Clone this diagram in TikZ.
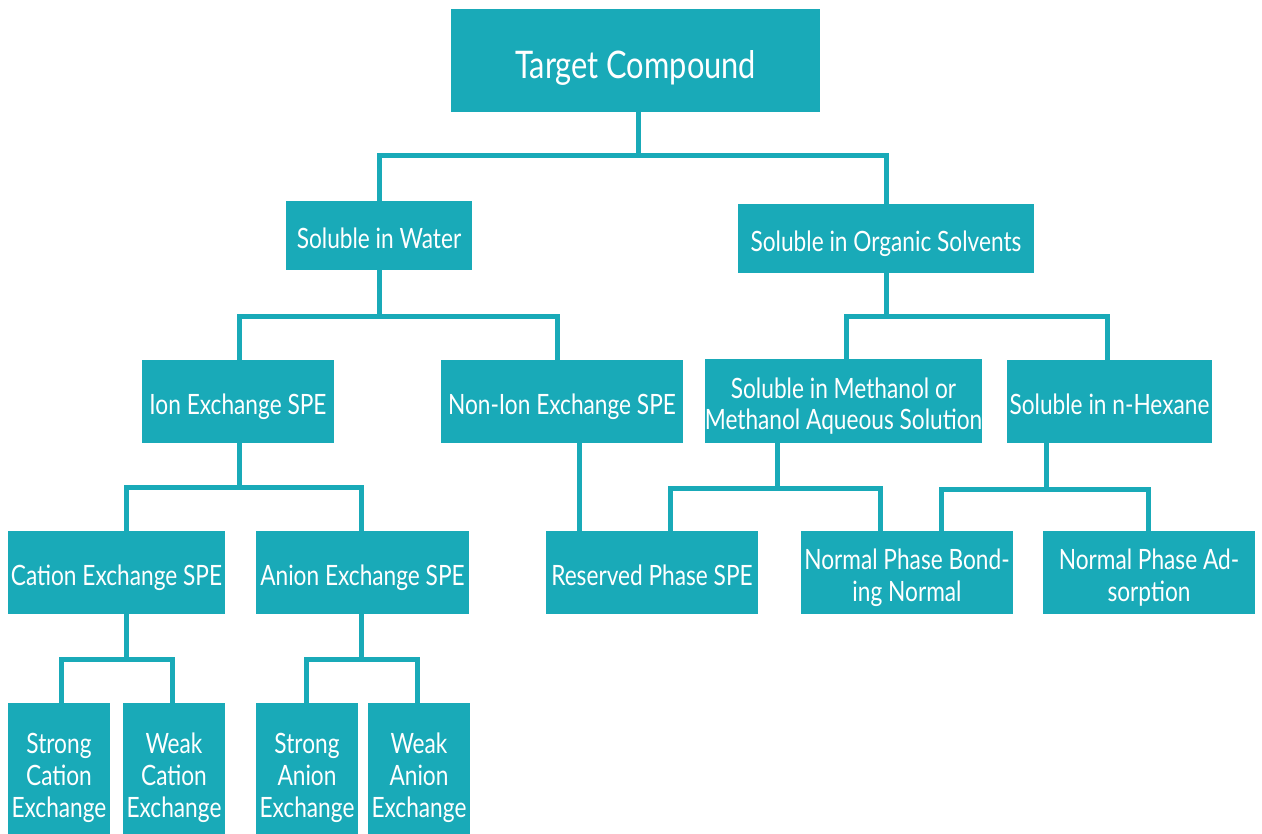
\documentclass[tikz,border=0pt]{standalone}
\usepackage{fontspec}
\setmainfont{Lato}[FakeStretch=0.81]
\definecolor{teal1}{HTML}{19AAB8}
\tikzset{
  box/.style={fill=teal1, inner sep=0pt},
  lbl/.style={text=white, inner sep=0pt, align=center, anchor=base, font=\fontsize{28}{32}\selectfont},
  conn/.style={draw=teal1, line width=5pt, line join=miter}
}
\begin{document}
\begin{tikzpicture}[x=1pt,y=-1pt]
\useasboundingbox (0,0) rectangle (1262,834);
\node[box, minimum width=369, minimum height=103] (tc) at (635.5,60.5) {};
\node[box, minimum width=186, minimum height=69] (sw) at (379,235.5) {};
\node[box, minimum width=296, minimum height=69] (so) at (886,238.5) {};
\node[box, minimum width=192, minimum height=83] (ion) at (238,401.5) {};
\node[box, minimum width=242, minimum height=83] (nonion) at (562,401.5) {};
\node[box, minimum width=277, minimum height=84] (meth) at (843.5,401) {};
\node[box, minimum width=205, minimum height=83] (hex) at (1109.5,401.5) {};
\node[box, minimum width=217, minimum height=83] (cat) at (116.5,572.5) {};
\node[box, minimum width=213, minimum height=83] (an) at (362.5,572.5) {};
\node[box, minimum width=212, minimum height=83] (rev) at (652,572.5) {};
\node[box, minimum width=212, minimum height=83] (npb) at (907,572.5) {};
\node[box, minimum width=212, minimum height=83] (npa) at (1149,572.5) {};
\node[box, minimum width=102, minimum height=131] (sc) at (59,768.5) {};
\node[box, minimum width=102, minimum height=131] (wc) at (174,768.5) {};
\node[box, minimum width=102, minimum height=131] (sa) at (307,768.5) {};
\node[box, minimum width=102, minimum height=131] (wa) at (419,768.5) {};
% connectors
\draw[conn] ([xshift=2.5]tc.south) -- ++(0,43) -| (sw.north);
\draw[conn] ([xshift=2.5]tc.south) -- ++(0,43) -| (so.north);
\draw[conn] (sw.south) -- ++(0,46) -| ([xshift=1]ion.north);
\draw[conn] (sw.south) -- ++(0,46) -| ([xshift=-5]nonion.north);
\draw[conn] (so.south) -- ++(0,43) -| ([xshift=2.5]meth.north);
\draw[conn] (so.south) -- ++(0,43) -| ([xshift=-2.5]hex.north);
\draw[conn] ([xshift=1]ion.south) -- ++(0,44) -| ([xshift=9.5]cat.north);
\draw[conn] ([xshift=1]ion.south) -- ++(0,44) -| ([xshift=-1.5]an.north);
\draw[conn] ([xshift=17]nonion.south) -- ([xshift=-73]rev.north);
\draw[conn] ([xshift=-66.5]meth.south) -- ++(0,45) -| ([xshift=18]rev.north);
\draw[conn] ([xshift=-66.5]meth.south) -- ++(0,45) -| ([xshift=-27]npb.north);
\draw[conn] ([xshift=-63.5]hex.south) -- ++(0,46) -| ([xshift=34]npb.north);
\draw[conn] ([xshift=-63.5]hex.south) -- ++(0,46) -| ([xshift=-1]npa.north);
\draw[conn] ([xshift=9.5]cat.south) -- ++(0,45) -| ([xshift=2]sc.north);
\draw[conn] ([xshift=9.5]cat.south) -- ++(0,45) -| ([xshift=-2]wc.north);
\draw[conn] ([xshift=-1.5]an.south) -- ++(0,45) -| ([xshift=-1]sa.north);
\draw[conn] ([xshift=-1.5]an.south) -- ++(0,45) -| ([xshift=-2]wa.north);
% texts (anchor=base is the baseline of the last line)
\node[lbl, font=\fontsize{38}{44}\selectfont] (tct) at (tc |- 0,79) {Target Compound};
\node[lbl] (swt) at (sw |- 0,249) {Soluble in Water};
\node[lbl] (sot) at (so |- 0,252) {Soluble in Organic Solvents};
\node[lbl] (iont) at (ion |- 0,414) {Ion Exchange SPE};
\node[lbl] (noniont) at (nonion |- 0,414) {Non-Ion Exchange SPE};
\node[lbl] (metht) at (meth |- 0,430) {Soluble in Methanol or\\Methanol Aqueous Solution};
\node[lbl] (hext) at (hex |- 0,414) {Soluble in n-Hexane};
\node[lbl] (catt) at (cat |- 0,585) {Cation Exchange SPE};
\node[lbl] (ant) at (an |- 0,585) {Anion Exchange SPE};
\node[lbl] (revt) at (rev |- 0,585) {Reserved Phase SPE};
\node[lbl] (npbt) at (npb |- 0,601) {Normal Phase Bond-\\ing Normal};
\node[lbl] (npat) at (npa |- 0,601) {Normal Phase Ad-\\sorption};
\node[lbl] (sct) at (sc |- 0,817) {Strong\\Cation\\Exchange};
\node[lbl] (wct) at (wc |- 0,817) {Weak\\Cation\\Exchange};
\node[lbl] (sat) at (sa |- 0,817) {Strong\\Anion\\Exchange};
\node[lbl] (wat) at (wa |- 0,817) {Weak\\Anion\\Exchange};
\end{tikzpicture}
\end{document}
